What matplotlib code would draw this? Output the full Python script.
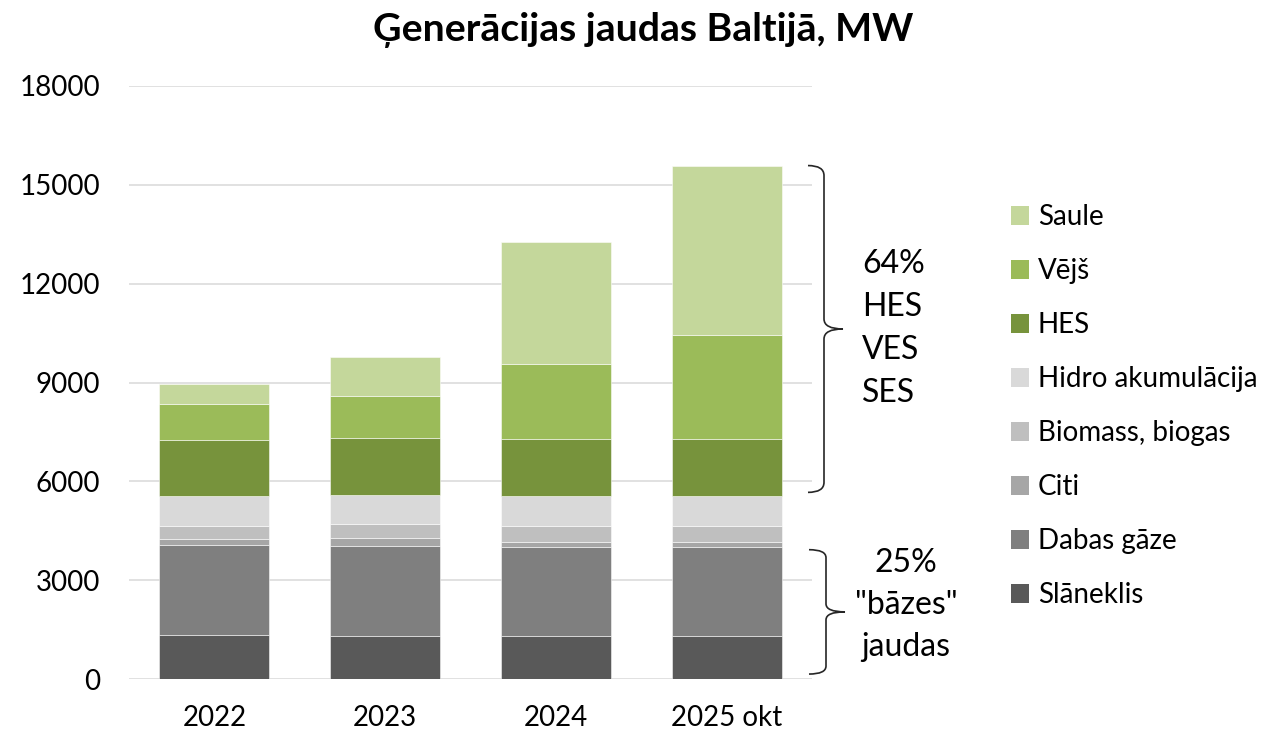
import matplotlib
matplotlib.use("Agg")
import matplotlib.pyplot as plt
import numpy as np
from matplotlib.path import Path
from matplotlib.patches import PathPatch, Patch
import matplotlib.transforms as mtransforms

plt.rcParams['font.family'] = ['Lato', 'DejaVu Sans']

categories = ["2022", "2023", "2024", "2025 okt"]
series_names = ["Slāneklis", "Dabas gāze", "Citi", "Biomass, biogas",
                "Hidro akumulācija", "HES", "Vējš", "Saule"]
slaneklis = [1340, 1320, 1305, 1305]
dabas_gaze = [2730, 2720, 2690, 2710]
citi = [170, 240, 155, 135]
biomass = [400, 420, 500, 500]
hidro_akum = [900, 890, 915, 915]
hes = [1715, 1730, 1715, 1715]
vejs = [1080, 1260, 2290, 3170]
saule = [630, 1200, 3680, 5135]
colors = ["#595959", "#7F7F7F", "#A6A6A6", "#BFBFBF",
          "#D9D9D9", "#77933C", "#9BBB59", "#C4D79B"]
yticks = [0, 3000, 6000, 9000, 12000, 15000, 18000]
title = "Ģenerācijas jaudas Baltijā, MW"
upper_lines = ["64%", "HES", "VES", "SES"]
lower_lines = ["25%", "\"bāzes\"", "jaudas"]

W, H = 1287, 732
fig = plt.figure(figsize=(W / 100, H / 100), dpi=100)
ax = fig.add_axes([129 / W, 1 - 679 / H, 683 / W, (679 - 86) / H])

data = [slaneklis, dabas_gaze, citi, biomass, hidro_akum, hes, vejs, saule]
x = np.arange(len(categories))
bottom = np.zeros(len(categories))
for vals, col, name in zip(data, colors, series_names):
    ax.bar(x, vals, bottom=bottom, width=0.643, color=col,
           edgecolor=(1, 1, 1, 0.6), linewidth=0.6, label=name, zorder=3)
    bottom = bottom + np.array(vals)

ax.set_xlim(-0.5, len(categories) - 0.5)
ax.set_ylim(0, 18000)
ax.set_yticks(yticks)
ax.set_yticklabels([str(v) for v in yticks])
ax.set_xticks(x)
ax.set_xticklabels(categories)
ax.tick_params(axis='both', length=0, labelsize=20, colors='black')
ax.tick_params(axis='y', pad=21)
ax.tick_params(axis='x', pad=19)
ax.yaxis.grid(True, color='#D9D9D9', linewidth=1.1, zorder=0)
ax.set_axisbelow(True)
for s in ax.spines.values():
    s.set_visible(False)

fig.text(0.5, 1 - 30 / H, title, ha='center', va='center',
         fontsize=28.3, fontweight='bold')

# Legend (reversed order, Saule on top)
handles = [Patch(facecolor=c, edgecolor='none') for c in colors][::-1]
labels = series_names[::-1]
leg = fig.legend(handles, labels, loc='upper left',
                 bbox_to_anchor=(1011 / W, 1 - 204 / H),
                 frameon=False, fontsize=20, handlelength=0.66,
                 handleheight=0.66, handletextpad=0.3,
                 labelspacing=1.01, borderaxespad=0, borderpad=0)

# Braces
def brace(ax, y0, y1, xline, xhook, xtip, r=12):
    trans = ax.transData
    p0 = trans.transform((0, y0))[1]
    p1 = trans.transform((0, y1))[1]
    axl = ax.transAxes.transform((0, 0))[0]
    axw = ax.transAxes.transform((1, 0))[0] - axl
    def X(px):
        return axl + (px - 129) * axw / 683
    xl, xh, xt = X(xline), X(xhook), X(xtip)
    mid = (p0 + p1) / 2
    top, bot = p1, p0
    verts = [
        (xh, top), (xl, top), (xl, top - r),
        (xl, mid + r),
        (xl, mid), (xt, mid),
        (xl, mid), (xl, mid - r),
        (xl, bot + r),
        (xl, bot), (xh, bot),
    ]
    codes = [Path.MOVETO, Path.CURVE3, Path.CURVE3,
             Path.LINETO,
             Path.CURVE3, Path.CURVE3,
             Path.CURVE3, Path.CURVE3,
             Path.LINETO,
             Path.CURVE3, Path.CURVE3]
    patch = PathPatch(Path(verts, codes), transform=mtransforms.IdentityTransform(),
                      facecolor='none', edgecolor='#262626', linewidth=1.2,
                      clip_on=False)
    fig.patches.append(patch)

fig.canvas.draw()
total_2025 = bottom[-1]
hes_base_2025 = sum(d[-1] for d in data[:5])
base_top_2025 = slaneklis[-1] + dabas_gaze[-1]
brace(ax, hes_base_2025 + 100, total_2025, 824, 808, 843, r=10)
brace(ax, 150, base_top_2025 - 90, 826, 809, 845, r=8)

for i, t in enumerate(upper_lines):
    fig.text(862 / W, 1 - (264 + 43 * i) / H, t, ha='left', va='center', fontsize=23)
for i, t in enumerate(lower_lines):
    fig.text(906 / W, 1 - (563 + 42 * i) / H, t, ha='center', va='center', fontsize=23)

fig.savefig("out.png", dpi=100)
